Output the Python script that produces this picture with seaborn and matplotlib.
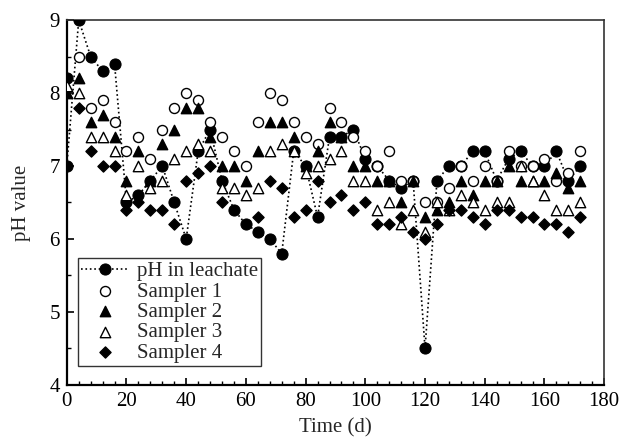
import numpy as np
import pandas as pd
import seaborn as sns
import matplotlib.pyplot as plt
from matplotlib.ticker import MultipleLocator

# sampling days
days = [0, 4, 8, 12, 16, 20, 24, 28, 32, 36, 40, 44, 48, 52, 56, 60, 64, 68, 72, 76, 80, 84,
        88, 92, 96, 100, 104, 108, 112, 116, 120, 124, 128, 132, 136, 140, 144, 148, 152, 156,
        160, 164, 168, 172]

# leachate has an extra reading at day 0
leachate_days = [0] + days
leachate_ph = [8.2, 7.0, 9.0, 8.5, 8.3, 8.4, 6.5, 6.6, 6.8, 7.0, 6.5, 6.0, 7.2, 7.5, 6.8, 6.4,
               6.2, 6.1, 6.0, 5.8, 7.2, 7.0, 6.3, 7.4, 7.4, 7.5, 7.1, 7.0, 6.8, 6.7, 6.8, 4.5,
               6.8, 7.0, 7.0, 7.2, 7.2, 6.8, 7.1, 7.2, 7.0, 7.0, 7.2, 6.8, 7.0]

nan = np.nan
sampler1 = [nan, 8.5, 7.8, 7.9, 7.6, 7.2, 7.4, 7.1, 7.5, 7.8, 8.0, 7.9, 7.6, 7.4, 7.2, 7.0,
            7.6, 8.0, 7.9, 7.6, 7.4, 7.3, 7.8, 7.6, 7.4, 7.2, 7.0, 7.2, 6.8, 6.8, 6.5, 6.5,
            6.7, 7.0, 6.8, 7.0, 6.8, 7.2, 7.0, 7.0, 7.1, 6.8, 6.9, 7.2]
sampler2 = [8.0, 8.2, 7.6, 7.7, 7.4, 6.8, 7.2, 6.8, 7.3, 7.5, 7.8, 7.8, 7.4, 7.0, 7.0, 6.8,
            7.2, 7.6, 7.6, 7.4, 7.0, 7.2, 7.6, 7.4, 7.0, 7.0, 6.8, 6.8, 6.5, 6.8, 6.3, 6.4,
            6.5, 6.8, 6.6, 6.8, 6.8, 7.0, 6.8, 6.8, 6.8, 6.9, 6.7, 6.8]
sampler3 = [8.1, 8.0, 7.4, 7.4, 7.2, 6.6, 7.0, 6.7, 6.8, 7.1, 7.2, 7.3, 7.2, 6.7, 6.7, 6.6,
            6.7, 7.2, 7.3, 7.2, 6.9, 7.0, 7.1, 7.2, 6.8, 6.8, 6.4, 6.5, 6.2, 6.4, 6.1, 6.5,
            6.4, 6.6, 6.5, 6.4, 6.5, 6.5, 7.0, 6.8, 6.6, 6.4, 6.4, 6.5]
sampler4 = [nan, 7.8, 7.2, 7.0, 7.0, 6.4, 6.5, 6.4, 6.4, 6.2, 6.8, 6.9, 7.0, 6.5, nan, nan,
            6.3, 6.8, 6.7, 6.3, 6.4, 6.8, 6.5, 6.6, 6.4, 6.5, 6.2, 6.2, 6.3, 6.1, 6.0, 6.2,
            6.4, 6.4, 6.3, 6.2, 6.4, 6.4, 6.3, 6.3, 6.2, 6.2, 6.1, 6.3]

sns.set_style("white")
plt.rcParams['font.family'] = ['Liberation Serif', 'DejaVu Serif']

fig = plt.figure(figsize=(6.3, 4.46), dpi=100)
ax = fig.add_axes([0.106, 0.137, 0.853, 0.818])

df_l = pd.DataFrame({'day': leachate_days, 'ph': leachate_ph})
sns.lineplot(data=df_l, x='day', y='ph', ax=ax, estimator=None, sort=False,
             color='black', linestyle=':', linewidth=1.2, marker='o', markersize=8,
             markeredgecolor='black', label='pH in leachate', zorder=3)

styles = [
    ('Sampler 1', sampler1, 'o', 'white', 52),
    ('Sampler 2', sampler2, '^', 'black', 56),
    ('Sampler 3', sampler3, '^', 'white', 56),
    ('Sampler 4', sampler4, 'D', 'black', 32),
]
for i, (name, vals, mk, fc, s) in enumerate(styles):
    d = pd.DataFrame({'day': days, 'ph': vals}).dropna()
    sns.scatterplot(data=d, x='day', y='ph', ax=ax, marker=mk, s=s, color=fc,
                    edgecolor='black', linewidth=1.0, label=name, zorder=4 + i)

ax.set_xlim(0, 180)
ax.set_ylim(4, 9)
ax.xaxis.set_major_locator(MultipleLocator(20))
ax.xaxis.set_minor_locator(MultipleLocator(4))
ax.yaxis.set_major_locator(MultipleLocator(1))
ax.yaxis.set_minor_locator(MultipleLocator(0.5))
ax.tick_params(which='both', direction='in', top=False, right=False, bottom=True, left=True,
               labelsize=15, colors='black')
ax.tick_params(which='major', length=5, width=1.2, pad=5)
ax.tick_params(which='minor', length=3, width=1.0)

for side in ['left', 'bottom']:
    ax.spines[side].set_linewidth(1.6)
    ax.spines[side].set_color('black')
for side in ['top', 'right']:
    ax.spines[side].set_linewidth(1.2)
    ax.spines[side].set_color('#333333')

ax.set_xlabel('Time (d)', fontsize=15, labelpad=5)
ax.set_ylabel('pH value', fontsize=15, labelpad=13)

leg = ax.legend(loc='lower left', bbox_to_anchor=(0.02, 0.052), borderaxespad=0,
                fontsize=15, frameon=True, fancybox=False, edgecolor='black',
                handlelength=2.3, handletextpad=0.4, labelspacing=0.04, borderpad=0.15)
leg.get_frame().set_linewidth(1.0)

plt.savefig('out.png', dpi=100)
